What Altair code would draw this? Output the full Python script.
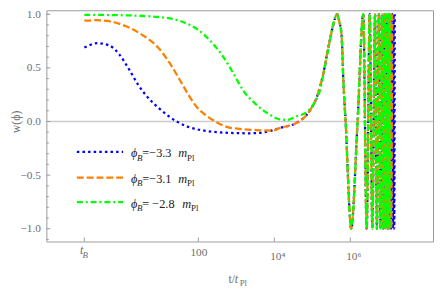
import altair as alt
import pandas as pd

# ---------------- data ----------------
# phi_B = -3.3 m_Pl (blue, dotted) before it merges with orange
blue_t = [0.1, 0.224, 0.447, 0.813, 1.48, 2.63, 4.79, 8.71, 15.8, 28.8, 63.1, 170, 457, 2190, 7080]
blue_w = [0.69, 0.73, 0.71, 0.63, 0.49, 0.34, 0.22, 0.13, 0.055, -0.006, -0.058, -0.089, -0.104, -0.11, -0.092]

# phi_B = -3.1 m_Pl (orange, dashed) before it merges with blue
orange_t = [0.1, 0.2, 0.447, 1.2, 3.24, 8.71, 15.8, 28.8, 52.5, 93.3, 170, 309, 562, 1230, 3310, 9120]
orange_w = [0.94, 0.945, 0.935, 0.89, 0.81, 0.69, 0.57, 0.42, 0.26, 0.13, 0.05, -0.01, -0.05, -0.07, -0.08, -0.085]

# blue and orange on top of each other
merged_t = [1.41e4, 3.98e4, 8.91e4, 1.32e5, 1.95e5, 2.63e5, 3.39e5]
merged_w = [-0.06, -0.01, 0.11, 0.23, 0.45, 0.69, 0.87]

# phi_B = -2.8 m_Pl (green, dot-dashed) before it joins the others
green_t = [0.1, 1.2, 8.71, 34.7, 93.3, 209, 457, 832, 1510, 3310, 7410, 1.41e4, 2.24e4,
           3.98e4, 6.61e4, 1.07e5, 1.58e5, 2.14e5, 2.88e5, 3.55e5]
green_w = [0.995, 0.99, 0.975, 0.935, 0.86, 0.75, 0.60, 0.45, 0.29, 0.16, 0.065, 0.02, 0.015,
           0.05, 0.08, 0.16, 0.29, 0.51, 0.75, 0.91]

# common oscillating tail (all three curves coincide)
osc_t = [4.47e5, 5.13e5, 5.89e5, 6.61e5, 7.76e5, 8.91e5, 9.77e5, 1.05e6, 1.55e6, 2.19e6,
         2.69e6, 3.24e6, 3.80e6, 4.47e6, 5.01e6, 5.62e6, 6.17e6, 6.76e6, 7.41e6, 7.94e6,
         8.51e6, 9.12e6, 9.66e6, 1.02e7, 1.07e7, 1.12e7, 1.19e7, 1.26e7, 1.32e7, 1.38e7,
         1.43e7, 1.48e7]
osc_w = [1.0, 0.93, 0.8, 0.35, -0.10, -0.62, -0.9, -1.0, 0.0, 1.0,
         -1.0, 1.0, -1.0, 1.0, -1.0, 1.0, -1.0, 1.0, -1.0, 1.0,
         -1.0, 1.0, -1.0, 1.0, -1.0, 1.0, -1.0, 1.0, -1.0, 1.0,
         -1.0, 1.0]

# last time reached by each curve
blue_end = 1.48e7
orange_end = 1.26e7
green_end = 1.12e7

legend_values = ["=\u22123.3", "=\u22123.1", "= \u22122.8"]
series_colors = ["#0000ff", "#ff8000", "#00ff00"]
series_dash = [[2.5, 3.2], [7, 3], [6, 3, 2, 3]]

x_tick_values = [0.1, 100, 1e4, 1e6]
x_tick_labels = ["", "100", "10\u2074", "10\u2076"]
y_major = [-1.0, -0.5, 0.0, 0.5, 1.0]
y_minor = [-1.1, -0.9, -0.8, -0.7, -0.6, -0.4, -0.3, -0.2, -0.1,
           0.1, 0.2, 0.3, 0.4, 0.6, 0.7, 0.8, 0.9, 1.0]

# ---------------- layout ----------------
W, H = 393, 235
FONT = "Liberation Serif"
GRAY = "#6e6e6e"
FRAME = "#9a9a9a"

xs = alt.Scale(type="log", domain=[0.01, 1.5e8], nice=False)
ys = alt.Scale(domain=[-1.119, 1.037], nice=False, zero=False)


def curve(pre_t, pre_w, end):
    ts = list(pre_t) + [t for t in osc_t if t <= end]
    ws = list(pre_w) + [w for t, w in zip(osc_t, osc_w) if t <= end]
    return pd.DataFrame({"t": ts, "w": ws})


blue_df = curve(blue_t + merged_t, blue_w + merged_w, blue_end)
orange_df = curve(orange_t + merged_t, orange_w + merged_w, orange_end)
green_df = curve(green_t, green_w, green_end)

label_expr = " : ".join(
    f"datum.value == {v} ? '{l}'" for v, l in zip(x_tick_values, x_tick_labels)
) + " : ''"

x_axis = alt.Axis(values=x_tick_values, labelExpr=label_expr, ticks=False, domain=False,
                  grid=False, title=None, labelFont=FONT, labelFontSize=11.5,
                  labelColor=GRAY, labelBaseline="top", labelFlush=False,
                  labelPadding={"condition": {"test": "datum.value >= 1000", "value": 9}, "value": 5},
                  labelOffset={"condition": {"test": "datum.value >= 1000", "value": 3}, "value": 0})
y_axis = alt.Axis(values=y_major, format=".1f", ticks=False, domain=False, grid=False,
                  labelFont=FONT, labelFontSize=11.5, labelColor=GRAY, labelPadding=6,
                  title="w(\u03d5)", titleFont=FONT, titleFontSize=12,
                  titleFontWeight="normal", titleColor=GRAY, titleX=-31, titleY=113,
                  titleAngle=270, titleAlign="center", titleBaseline="middle")


def X(field):
    return alt.X(field, type="quantitative", scale=xs, axis=x_axis)


def Y(field):
    return alt.Y(field, type="quantitative", scale=ys, axis=y_axis)


zero = alt.Chart(pd.DataFrame({"w": [0.0]})).mark_rule(
    color="#cccccc", strokeWidth=1.3
).encode(y=Y("w"))

xt = alt.Chart(pd.DataFrame({"t": x_tick_values})).mark_rule(
    color=FRAME, strokeWidth=1
).encode(x=X("t"), y=alt.value(H), y2=alt.value(H - 4))

ymaj = alt.Chart(pd.DataFrame({"w": y_major})).mark_rule(color=FRAME, strokeWidth=1).encode(
    y=Y("w"), x=alt.value(0), x2=alt.value(4))
ymin = alt.Chart(pd.DataFrame({"w": y_minor})).mark_rule(color=FRAME, strokeWidth=1).encode(
    y=Y("w"), x=alt.value(0), x2=alt.value(2.5))

lines = []
for df, col, dash in zip([blue_df, orange_df, green_df], series_colors, series_dash):
    lines.append(
        alt.Chart(df).mark_line(color=col, strokeWidth=2.3, strokeDash=dash,
                                strokeCap="butt", interpolate="monotone").encode(
            x=X("t"), y=Y("w"),
        )
    )

one = pd.DataFrame({"a": [0]})
legend = []
rows_y = [144, 170, 195]
base_y = [149.5, 175.5, 200.5]
for i in range(3):
    legend.append(alt.Chart(one).mark_rule(
        color=series_colors[i], strokeWidth=2.3, strokeDash=series_dash[i], strokeCap="butt"
    ).encode(x=alt.value(31), x2=alt.value(78), y=alt.value(rows_y[i])))
    by = base_y[i]
    mx = 134 if i < 2 else 138
    pieces = [
        ("\u03d5", 86, by, 12.5, "italic"),
        ("B", 92, by + 3.5, 9, "italic"),
        (legend_values[i], 97.5, by, 12.5, "normal"),
        ("m", mx, by, 12.5, "italic"),
        ("Pl", mx + 9, by + 3.5, 9, "normal"),
    ]
    for txt, px, py, fs, st in pieces:
        legend.append(alt.Chart(one).mark_text(
            text=txt, font=FONT, fontSize=fs, fontStyle=st, color="#222222",
            align="left", baseline="alphabetic"
        ).encode(x=alt.value(px), y=alt.value(py)))

# t_B tick label
tb = pd.DataFrame({"t": [x_tick_values[0]]})
tb_t = alt.Chart(tb).mark_text(text="t", font=FONT, fontSize=12, fontStyle="italic",
                               color=GRAY, align="right", baseline="alphabetic", dx=-1).encode(
    x=X("t"), y=alt.value(248))
tb_b = alt.Chart(tb).mark_text(text="B", font=FONT, fontSize=9, fontStyle="italic",
                               color=GRAY, align="left", baseline="alphabetic", dx=-2).encode(
    x=X("t"), y=alt.value(252))

# x axis title t/t_Pl
xt1 = alt.Chart(one).mark_text(text="t/", font=FONT, fontSize=12, color=GRAY, align="left",
                               baseline="alphabetic").encode(x=alt.value(185), y=alt.value(277))
xt2 = alt.Chart(one).mark_text(text="t", font=FONT, fontSize=12, fontStyle="italic", color=GRAY,
                               align="left", baseline="alphabetic").encode(x=alt.value(191.5), y=alt.value(277))
xt3 = alt.Chart(one).mark_text(text="Pl", font=FONT, fontSize=9, color=GRAY, align="left",
                               baseline="alphabetic").encode(x=alt.value(196.5), y=alt.value(280))

chart = alt.layer(zero, xt, ymaj, ymin, *lines, *legend, tb_t, tb_b, xt1, xt2, xt3).properties(
    width=W, height=H,
    padding={"left": 39, "top": 0, "right": 1, "bottom": 48},
    autosize=alt.AutoSizeParams(type="none"),
).configure_view(stroke=FRAME, strokeWidth=1)

chart.save("out.html", embed_options={"renderer": "svg", "actions": False})
